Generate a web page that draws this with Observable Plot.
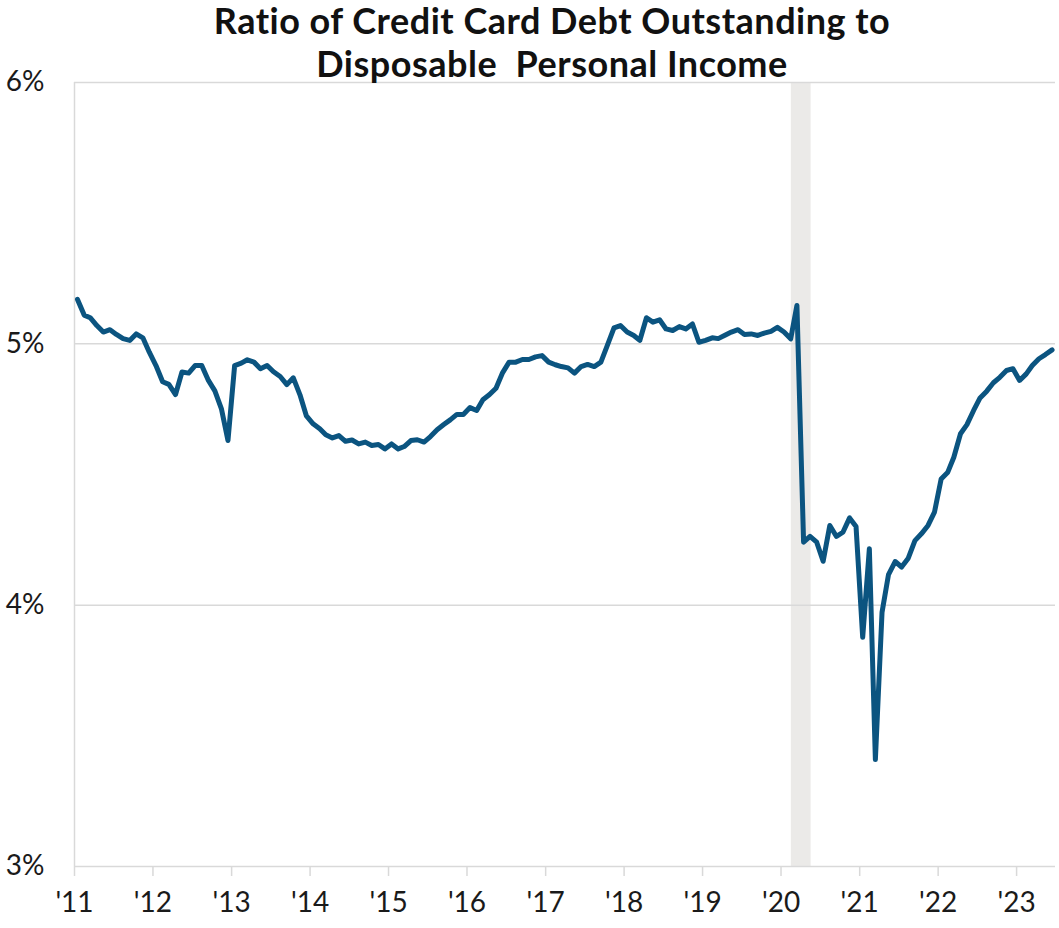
<!DOCTYPE html>
<html>
<head>
<meta charset="utf-8">
<script src="https://cdn.jsdelivr.net/npm/d3@7"></script>
<script src="https://cdn.jsdelivr.net/npm/@observablehq/plot@0.6"></script>
<style>
  html, body { margin: 0; padding: 0; background: #fff; }
  #wrap { position: relative; width: 1059px; height: 928px; }
  #title {
    position: absolute; left: 0; top: -1px; width: 1104px;
    text-align: center; font-family: Lato, "Noto Sans", sans-serif;
    font-weight: 700; font-size: 36px; line-height: 43px; letter-spacing: 0.5px; color: #111;
    z-index: 2; pointer-events: none;
  }
  svg { font-family: Lato, "Noto Sans", sans-serif; }
</style>
</head>
<body>
<div id="wrap">
  <div id="title">Ratio of Credit Card Debt Outstanding to<br>Disposable&nbsp; Personal Income</div>
  <div id="chart"></div>
</div>
<script>
// Monthly ratio (%), Jan 2011 .. Jun 2023
const startMonth = "2011-01";
const ratio = [
  5.17, 5.11, 5.10, 5.07, 5.045, 5.054, 5.036, 5.02, 5.013, 5.038, 5.023, 4.968,
  4.917, 4.855, 4.845, 4.806, 4.892, 4.888, 4.917, 4.917, 4.86, 4.82, 4.75, 4.63,
  4.917, 4.926, 4.939, 4.930, 4.905, 4.917, 4.893, 4.875, 4.844, 4.870, 4.805, 4.724,
  4.694, 4.675, 4.652, 4.64, 4.649, 4.627, 4.632, 4.617, 4.624, 4.611, 4.615, 4.598,
  4.617, 4.598, 4.607, 4.630, 4.633, 4.624, 4.645, 4.671, 4.691, 4.709, 4.730, 4.73,
  4.756, 4.745, 4.786, 4.806, 4.83, 4.89, 4.93, 4.93, 4.94, 4.94, 4.95, 4.955,
  4.93, 4.92, 4.913, 4.908, 4.888, 4.913, 4.921, 4.913, 4.93, 4.994, 5.061, 5.070,
  5.045, 5.032, 5.013, 5.100, 5.083, 5.092, 5.057, 5.051, 5.066, 5.057, 5.076, 5.006,
  5.013, 5.023, 5.02, 5.033, 5.045, 5.054, 5.036, 5.038, 5.032, 5.041, 5.048, 5.063,
  5.045, 5.019, 5.147, 4.241, 4.263, 4.241, 4.168, 4.305, 4.263, 4.279, 4.334, 4.301,
  3.877, 4.216, 3.409, 3.973, 4.117, 4.167, 4.146, 4.18, 4.247, 4.273, 4.305, 4.356,
  4.483, 4.509, 4.566, 4.656, 4.691, 4.745, 4.793, 4.819, 4.851, 4.872, 4.898, 4.905,
  4.860, 4.885, 4.917, 4.943, 4.959, 4.977
];
const yTicks = [3, 4, 5, 6];
const yearTicks = [2011, 2012, 2013, 2014, 2015, 2016, 2017, 2018, 2019, 2020, 2021, 2022, 2023];
const xDomain = ["2011-01-01", "2023-07-01"];
const recession = [{start: "2020-02-18", end: "2020-05-20"}];

const start = new Date(startMonth + "-15T00:00:00Z");
const data = ratio.map((v, i) => {
  const d = new Date(start);
  d.setUTCMonth(start.getUTCMonth() + i);
  return {date: d, value: v};
});
const rec = recession.map(r => ({x1: new Date(r.start), x2: new Date(r.end)}));
const yearDates = yearTicks.map(y => new Date(Date.UTC(y, 0, 1)));

const grid = "#d9d9d9";
const chart = Plot.plot({
  width: 1059,
  height: 928,
  marginLeft: 74,
  marginRight: 4,
  marginTop: 82,
  marginBottom: 62,
  style: {fontFamily: "Lato, 'Noto Sans', sans-serif", color: "#1a1a1a", background: "#fff"},
  x: {type: "utc", domain: xDomain.map(d => new Date(d)), label: null},
  y: {domain: [3, 6], label: null},
  marks: [
    Plot.rect(rec, {x1: "x1", x2: "x2", y1: yTicks[0], y2: yTicks[yTicks.length - 1], fill: "#ebeae8"}),
    Plot.ruleY(yTicks, {stroke: grid, strokeWidth: 1.5}),
    Plot.ruleX([new Date(xDomain[0])], {stroke: grid, strokeWidth: 1.5}),
    Plot.axisY({ticks: yTicks, tickSize: 0, tickPadding: 30, fontSize: 28, label: null,
      tickFormat: d => d + "%", fill: "#1a1a1a"}),
    Plot.axisX({ticks: yearDates, tickSize: 10, tickPadding: 16, fontSize: 28, label: null,
      stroke: grid, strokeWidth: 1.5, fill: "#1a1a1a",
      tickFormat: d => "'" + String(d.getUTCFullYear()).slice(2)}),
    Plot.line(data, {x: "date", y: "value", stroke: "#0b5480", strokeWidth: 5,
      strokeLinejoin: "round", strokeLinecap: "round"})
  ]
});
document.getElementById("chart").appendChild(chart);
</script>
</body>
</html>
